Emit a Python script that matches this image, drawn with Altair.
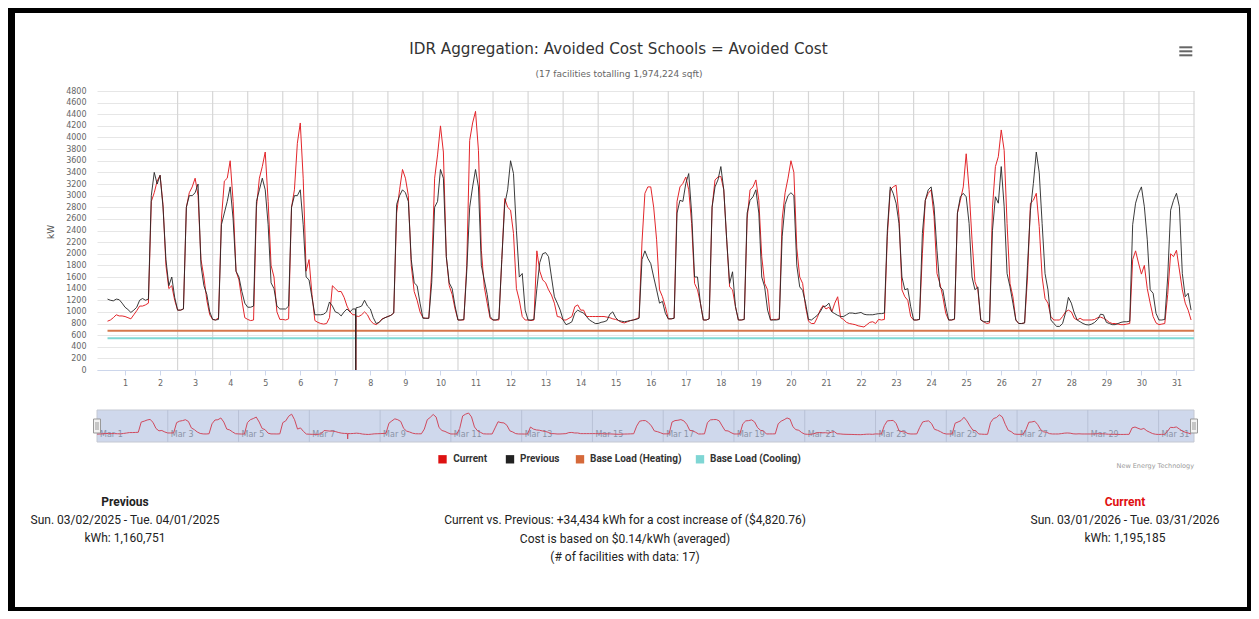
import altair as alt
import pandas as pd

current_kw = [
    840, 860, 900, 950, 930, 930, 920, 900, 880, 950, 1020, 1100,      # Mar 1
    1100, 1120, 1150, 2900, 3050, 3250, 3350, 2850, 1800, 1400, 1450, 1200,
    1030, 1030, 1050, 2800, 3050, 3150, 3300, 3000, 1900, 1600, 1200, 950,
    870, 860, 900, 2600, 3250, 3300, 3600, 2900, 1700, 1550, 1200, 900,
    870, 850, 860, 2800, 3300, 3500, 3750, 2900, 1800, 1600, 1000, 870,
    870, 860, 880, 2800, 3100, 3900, 4250, 3300, 1700, 1900, 1300, 850,
    820, 800, 790, 800, 900, 1450, 1400, 1350, 1350, 1250, 1100, 1000,
    950, 0, 920, 950, 1000, 950, 850, 800, 780, 820, 880, 900,           # Mar 8 (DST)
    920, 940, 980, 2700, 3100, 3450, 3300, 3000, 1800, 1350, 1200, 1000,
    900, 890, 890, 1700, 3300, 3700, 4200, 3750, 1950, 1450, 1300, 1050,
    860, 860, 860, 1800, 3950, 4250, 4450, 3780, 2060, 1430, 1150, 890,
    860, 860, 860, 1900, 2950, 2800, 2750, 2350, 1400, 1200, 920, 860,
    860, 850, 860, 2050, 1700, 1550, 1500, 1380, 1290, 1150, 920, 910,
    860, 860, 890, 920, 1090, 1120, 1030, 1030, 920, 920, 920, 920,
    920, 920, 920, 910, 900, 880, 870, 850, 820, 810, 830, 850,
    860, 880, 900, 2200, 3040, 3150, 3150, 2800, 2240, 1380, 1260, 1090,
    880, 880, 890, 2900, 3150, 3210, 3320, 3100, 2520, 1490, 1380, 1150,
    860, 860, 880, 2800, 3270, 3320, 3330, 3100, 2240, 1430, 1380, 1090,
    860, 860, 870, 2600, 3100, 3150, 3270, 2920, 1950, 1490, 1380, 860,
    870, 870, 880, 2600, 3050, 3300, 3600, 3400, 2100, 1600, 1490, 1090,
    840, 800, 800, 900, 1030, 1110, 1050, 1080, 1000, 1150, 1260, 900,
    870, 820, 800, 790, 780, 760, 750, 740, 780, 820, 830, 800,
    870, 860, 870, 2300, 3100, 3150, 3180, 2640, 1380, 1260, 1200, 920,
    860, 860, 870, 2000, 2920, 3040, 3100, 2640, 1660, 1490, 1260, 975,
    860, 860, 870, 2700, 2920, 3150, 3720, 3100, 2240, 1520, 1380, 860,
    830, 800, 810, 2800, 3500, 3670, 4130, 3780, 2520, 1490, 1260, 860,
    800, 800, 810, 1600, 2870, 2920, 3040, 2470, 1600, 1230, 1150, 920,
    860, 860, 860, 920, 1000, 1030, 1000, 890, 860, 890, 860, 860,
    860, 860, 870, 900, 910, 890, 860, 820, 800, 800, 790, 780,
    780, 790, 800, 1900, 2050, 1840, 1650, 1800, 1400, 1150, 920, 810,
    780, 790, 800, 1300, 2000, 1950, 2060, 1720, 1380, 1150, 1030, 860,  # Mar 31
]
previous_kw = [
    1220, 1200, 1190, 1220, 1210, 1150, 1080, 1040, 990, 1030, 1080, 1200,
    1230, 1200, 1220, 3000, 3400, 3200, 3350, 2800, 1900, 1450, 1600, 1250,
    1030, 1030, 1050, 2800, 3000, 3000, 3050, 3200, 1800, 1450, 1300, 1000,
    870, 860, 870, 2500, 2700, 2900, 3150, 2600, 1700, 1600, 1350, 1150,
    1080, 1080, 1100, 2900, 3100, 3300, 3100, 2500, 1500, 1400, 1100, 1050,
    1050, 1050, 1100, 2800, 3000, 3000, 3100, 2500, 1600, 1550, 1250, 950,
    950, 950, 960, 1000, 1170, 1100, 1000, 980, 930, 1000, 1050, 1000,
    1050, 0, 1080, 1100, 1200, 1100, 1050, 900, 800, 820, 870, 900,
    920, 940, 980, 2850, 3000, 3100, 3050, 2900, 1900, 1500, 1450, 1150,
    890, 890, 890, 1500, 2800, 2900, 3450, 3300, 1950, 1500, 1400, 1100,
    860, 860, 870, 1700, 2800, 3150, 3450, 3150, 1800, 1550, 1300, 920,
    860, 860, 880, 1900, 2850, 3100, 3600, 3380, 2400, 1600, 1660, 1030,
    860, 860, 870, 1400, 1850, 2000, 2020, 1950, 1600, 1260, 1150, 1030,
    860, 780, 800, 830, 980, 1030, 1000, 980, 920, 860, 830, 800,
    800, 820, 830, 850, 960, 1000, 900, 850, 840, 830, 840, 850,
    860, 870, 890, 1900, 2050, 1920, 1830, 1600, 1380, 1150, 1180, 975,
    880, 880, 890, 2700, 2920, 2900, 3210, 3380, 2700, 1600, 1600, 1150,
    860, 860, 880, 2800, 3150, 3270, 3500, 3100, 2240, 1490, 1690, 1090,
    860, 860, 870, 2700, 2920, 2980, 3100, 2700, 1600, 1430, 1030, 860,
    860, 860, 870, 2300, 2850, 3000, 3050, 3000, 1800, 1430, 1370, 1150,
    870, 860, 900, 940, 1000, 1090, 1100, 1150, 1000, 970, 940, 920,
    920, 950, 980, 980, 970, 980, 990, 960, 950, 950, 950, 960,
    970, 970, 980, 2400, 3150, 3040, 2870, 2520, 1600, 1380, 1400, 1090,
    860, 860, 870, 2350, 2920, 3100, 3150, 2810, 2060, 1430, 1380, 1090,
    860, 860, 880, 2700, 2980, 3040, 2980, 2520, 1600, 1380, 1430, 860,
    830, 830, 840, 2400, 2980, 2870, 3500, 2810, 1660, 1430, 1150, 860,
    800, 800, 810, 1800, 2750, 3210, 3750, 3400, 2520, 1660, 1380, 860,
    800, 750, 750, 800, 980, 1250, 1150, 980, 860, 830, 800, 780,
    775, 790, 820, 870, 960, 950, 820, 800, 780, 780, 800, 820,
    830, 830, 840, 2500, 2870, 3040, 3150, 2810, 2240, 1380, 1320, 975,
    860, 860, 870, 1600, 2750, 2920, 3040, 2810, 1660, 1260, 1320, 1030,
]
sample_step_h = 2
dst_hours = [169.8, 170.2]          # readings just around the DST gap
dst_current_kw = [950, 930]
dst_previous_kw = [1050, 1070]
base_heating_kw = 675
base_cooling_kw = 545
period_end_h = 744
day_numbers = list(range(1, 32))
nav_labels = ["Mar 1", "Mar 3", "Mar 5", "Mar 7", "Mar 9", "Mar 11", "Mar 13", "Mar 15",
              "Mar 17", "Mar 19", "Mar 21", "Mar 23", "Mar 25", "Mar 27", "Mar 29", "Mar 31"]
legend_names = ["Current", "Previous", "Base Load (Heating)", "Base Load (Cooling)"]
previous_block = ["Previous", "Sun. 03/02/2025 - Tue. 04/01/2025", "kWh: 1,160,751"]
middle_block = ["Current vs. Previous: +34,434 kWh for a cost increase of ($4,820.76)",
                "Cost is based on $0.14/kWh (averaged)",
                "(# of facilities with data: 17)"]
current_block = ["Current", "Sun. 03/01/2026 - Tue. 03/31/2026", "kWh: 1,195,185"]
title_text = "IDR Aggregation: Avoided Cost Schools = Avoided Cost"
subtitle_text = "(17 facilities totalling 1,974,224 sqft)"

# ---------------- tables ----------------
hours = [i * sample_step_h for i in range(len(current_kw))]
cur_df = pd.DataFrame({"h": hours + dst_hours, "kw": current_kw + dst_current_kw}).sort_values("h")
prev_df = pd.DataFrame({"h": hours + dst_hours, "kw": previous_kw + dst_previous_kw}).sort_values("h")
bounds_df = pd.DataFrame({"h": [24 * d for d in day_numbers[1:]]})
heat_df = pd.DataFrame({"h": [0], "h2": [period_end_h], "kw": [base_heating_kw]})
cool_df = pd.DataFrame({"h": [0], "h2": [period_end_h], "kw": [base_cooling_kw]})
nav_lab_df = pd.DataFrame({"h": [48 * i for i in range(len(nav_labels))], "label": nav_labels})
nav_grid_df = pd.DataFrame({"h": [48 * i for i in range(1, len(nav_labels))]})
one = pd.DataFrame({"a": [0]})

W, H = 1097, 279
RED, BLACK, ORANGE, CYAN = "#e3262b", "#262626", "#d6784c", "#7fd8d4"

xs = alt.Scale(domain=[-7.2, period_end_h], nice=False, zero=False)
ys = alt.Scale(domain=[0, 4800], nice=False)
x_axis = alt.Axis(values=[12 + 24 * (d - 1) for d in day_numbers], labelExpr="floor(datum.value/24)+1",
                  grid=False, domainColor="#ccd6eb", tickColor="#ccd6eb", tickSize=5,
                  labelFont="DejaVu Sans", labelFontSize=8, labelColor="#666666", labelPadding=4,
                  labelFlush=False, labelOverlap=False, title=None)
y_axis = alt.Axis(values=list(range(0, 4801, 200)), format="d", grid=True, gridColor="#e6e6e6",
                  domain=False, ticks=False, labelPadding=11, labelFont="DejaVu Sans",
                  labelFontSize=8, labelColor="#666666", labelFlush=False, labelOverlap=False, title=None)
X = alt.X("h:Q", scale=xs, axis=x_axis)
Y = alt.Y("kw:Q", scale=ys, axis=y_axis)

seps = alt.Chart(bounds_df).mark_rule(color="#d6d6d6", strokeWidth=1.2).encode(
    x=X, y=alt.value(0), y2=alt.value(H))
heat = alt.Chart(heat_df).mark_rule(color=ORANGE, strokeWidth=2).encode(x=X, x2="h2:Q", y=Y)
cool = alt.Chart(cool_df).mark_rule(color=CYAN, strokeWidth=2).encode(x=X, x2="h2:Q", y=Y)
cur = alt.Chart(cur_df).mark_line(color=RED, strokeWidth=1).encode(x=X, y=Y)
prev = alt.Chart(prev_df).mark_line(color=BLACK, strokeWidth=1, opacity=0.9).encode(x=X, y=Y)
main = alt.layer(seps, heat, cool, cur, prev)

# ---------------- navigator ----------------
nxs = alt.Scale(domain=[0, period_end_h], nice=False, zero=False)
nys = alt.Scale(domain=[0, 4450], range=[348, 322], nice=False, zero=False)
NX = alt.X("h:Q", scale=nxs, axis=None)
nav_bg = alt.Chart(one).mark_rect(fill="#cfd8ec", stroke="#c4c8d2", strokeWidth=1).encode(
    x=alt.value(0), x2=alt.value(W), y=alt.value(319), y2=alt.value(351))
nav_grid = alt.Chart(nav_grid_df).mark_rule(color="#b8c1d6", strokeWidth=1).encode(
    x=NX, y=alt.value(319), y2=alt.value(351))
nav_text = alt.Chart(nav_lab_df).mark_text(align="left", baseline="middle", dx=3, font="DejaVu Sans",
                                           fontSize=8, color="#8a93a6").encode(
    x=NX, y=alt.value(344), text="label:N")
nav_line = alt.Chart(cur_df).mark_line(color="#cf4a5e", strokeWidth=1).encode(
    x=NX, y=alt.Y("kw:Q", scale=nys, axis=None))
handles = []
for hx in (0, W):
    handles.append(alt.Chart(one).mark_rect(fill="#f2f2f2", stroke="#999999", strokeWidth=1).encode(
        x=alt.value(hx - 3.5), x2=alt.value(hx + 3.5), y=alt.value(328), y2=alt.value(342)))
    for gx in (-1, 1):
        handles.append(alt.Chart(one).mark_rule(color="#999999", strokeWidth=1).encode(
            x=alt.value(hx + gx), y=alt.value(331), y2=alt.value(339)))
nav = alt.layer(nav_bg, nav_grid, nav_text, nav_line, *handles)


# ---------------- annotations ----------------
def txt(s, x, y, size=12, color="#222222", weight="normal", font="Roboto", align="center", angle=None):
    kw = dict(text=s, font=font, fontSize=size, color=color, fontWeight=weight, align=align,
              baseline="middle")
    if angle is not None:
        kw["angle"] = angle
    return alt.Chart(one).mark_text(**kw).encode(x=alt.value(x), y=alt.value(y))


ann = [
    txt(title_text, 521.5, -42, size=15.2, color="#333333", font="DejaVu Sans"),
    txt(subtitle_text, 522, -17, size=9, color="#666666", font="DejaVu Sans"),
    txt("kW", -46, 141, size=9, color="#555555", font="DejaVu Sans", angle=270),
    txt("New Energy Technology", W, 375, size=6.5, color="#999999", font="DejaVu Sans", align="right"),
]
# hamburger icon
for yy in (-43.7, -39.7, -35.7):
    ann.append(alt.Chart(one).mark_rule(color="#666666", strokeWidth=2).encode(
        x=alt.value(1082.3), x2=alt.value(1095.3), y=alt.value(yy)))
# legend
leg_colors = ["#dd1111", "#222222", "#d5693a", "#7fd6d4"]
leg_sym_x = [345.5, 413, 483, 603]
leg_txt_x = [356.3, 423, 493, 613]
for name, col, sx, tx in zip(legend_names, leg_colors, leg_sym_x, leg_txt_x):
    ann.append(alt.Chart(one).mark_square(color=col, size=70, opacity=1).encode(
        x=alt.value(sx), y=alt.value(368.3)))
    ann.append(txt(name, tx, 368.3, size=10, color="#333333", weight="bold", align="left"))
# bottom summary
for i, (s, yy) in enumerate(zip(previous_block, [411, 429, 447])):
    ann.append(txt(s, 28, yy, weight="bold" if i == 0 else "normal"))
for s, yy in zip(middle_block, [429, 448, 466]):
    ann.append(txt(s, 528, yy))
for i, (s, yy) in enumerate(zip(current_block, [411, 429, 447])):
    ann.append(txt(s, 1028, yy, weight="bold" if i == 0 else "normal",
                   color="#e01010" if i == 0 else "#222222"))
# black frame (kept inside the page so nothing overflows the window)
for (x1, x2, y1, y2) in [(-89, -82, -83, 520), (-89, 1154, -83, -78),
                         (1150, 1154, -83, 520), (-89, 1154, 516, 520)]:
    ann.append(alt.Chart(one).mark_rect(color="black").encode(
        x=alt.value(x1), x2=alt.value(x2), y=alt.value(y1), y2=alt.value(y2)))

annot = alt.layer(*ann)

chart = alt.layer(main, nav, annot).resolve_scale(x="independent", y="independent").properties(
    width=W, height=H,
    padding={"left": 89, "top": 83, "right": 57, "bottom": 241},
    autosize=alt.AutoSizeParams(type="none"),
    background="white",
).configure_view(stroke=None)

chart.save("out.html", embed_options={"renderer": "svg", "actions": False})
